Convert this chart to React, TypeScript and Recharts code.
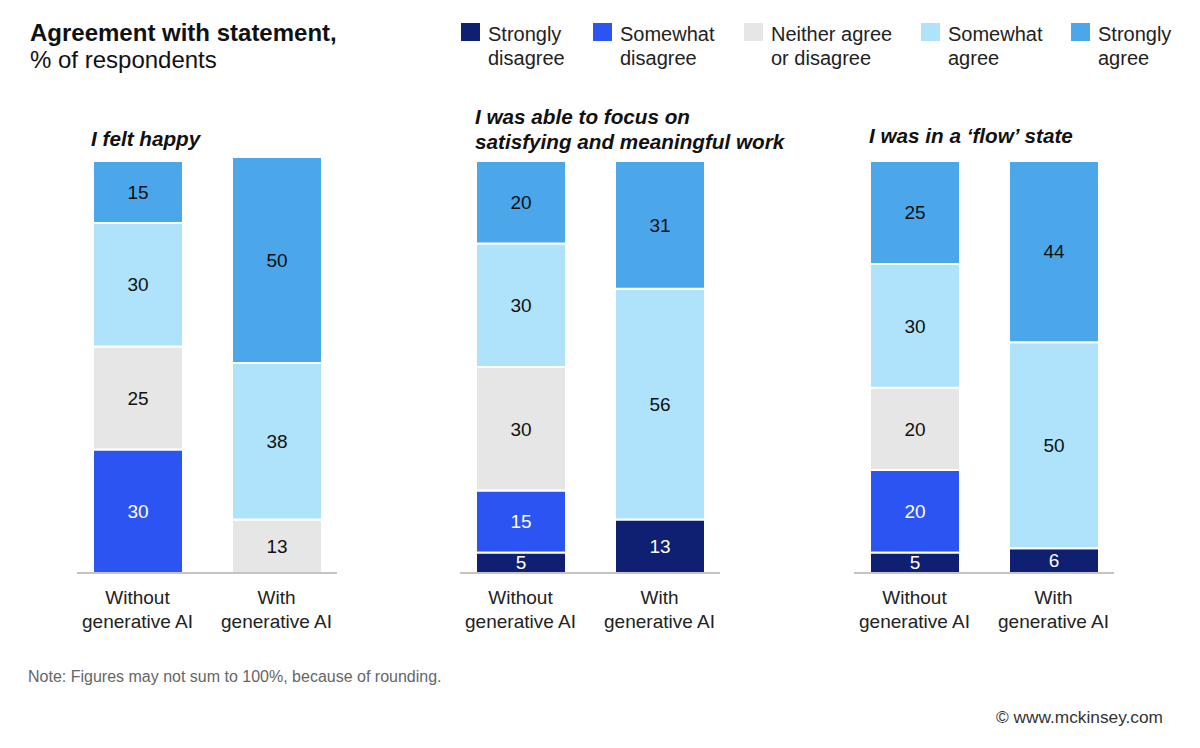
import React from 'react'
import { Bar, BarChart, LabelList, XAxis, YAxis } from 'recharts'

const groups = ['Without|generative AI', 'With|generative AI']
const panelTitles = [['I felt happy'], ['I was able to focus on', 'satisfying and meaningful work'], ['I was in a \u2018flow\u2019 state']]

// values per panel: [without, with]
const stronglyDisagree = [[0, 0], [5, 13], [5, 6]]
const somewhatDisagree = [[30, 0], [15, 0], [20, 0]]
const neither = [[25, 13], [30, 0], [20, 0]]
const somewhatAgree = [[30, 38], [30, 56], [30, 50]]
const stronglyAgree = [[15, 50], [20, 31], [25, 44]]

const series = [
  { key: 'sd', name: 'Strongly|disagree', values: stronglyDisagree, color: '#0f1f72', text: '#fff' },
  { key: 'swd', name: 'Somewhat|disagree', values: somewhatDisagree, color: '#2b54f2', text: '#fff' },
  { key: 'n', name: 'Neither agree|or disagree', values: neither, color: '#e6e6e6', text: '#111' },
  { key: 'swa', name: 'Somewhat|agree', values: somewhatAgree, color: '#aee3fb', text: '#111' },
  { key: 'sa', name: 'Strongly|agree', values: stronglyAgree, color: '#4ba6ea', text: '#111' },
]

const FONT = '"Liberation Sans", Arial, sans-serif'
const panelLeft = [77, 460, 854]
const titleLeft = [91, 475, 869]
const titleTop = [125.5, 104, 123]
const legendText = [488, 620, 771, 948, 1098]

function GroupTick({ x, y, payload }: any) {
  const [a, b] = String(payload.value).split('|')
  return (
    <g>
      <text x={x} y={y + 31} textAnchor="middle" fontSize={19} fill="#222" fontFamily={FONT}>{a}</text>
      <text x={x} y={y + 55} textAnchor="middle" fontSize={19} fill="#222" fontFamily={FONT}>{b}</text>
    </g>
  )
}

function Panel({ index }: { index: number }) {
  const data = groups.map((g, gi) => {
    const row: any = { group: g }
    series.forEach((s) => { row[s.key] = s.values[index][gi] })
    return row
  })
  return (
    <div style={{ position: 'absolute', left: panelLeft[index], top: 150 }}>
      <BarChart width={260} height={483} data={data} margin={{ top: 7, right: 0, bottom: 0, left: 0 }}>
        <XAxis
          dataKey="group"
          tick={<GroupTick />}
          tickLine={false}
          tickSize={0}
          tickMargin={0}
          height={60}
          padding={{ left: -9, right: -9 }}
          axisLine={{ stroke: '#b0b0b0', strokeWidth: 1.5 }}
          interval={0}
        />
        <YAxis hide domain={[0, 101]} />
        {series.map((s) => (
          <Bar key={s.key} dataKey={s.key} stackId="a" fill={s.color} stroke="#fff" strokeWidth={2} barSize={90} isAnimationActive={false}>
            <LabelList
              dataKey={s.key}
              position="center"
              fill={s.text}
              fontSize={19}
              fontFamily={FONT}
              formatter={(v: any) => (v ? v : '')}
            />
          </Bar>
        ))}
      </BarChart>
    </div>
  )
}

export default function App() {
  return (
    <div style={{ position: 'absolute', left: 0, top: 0, width: 1200, height: 748, background: '#fff', fontFamily: FONT, color: '#111', overflow: 'hidden' }}>
      <div style={{ position: 'absolute', left: 30, top: 19, fontSize: 24, lineHeight: '27px' }}>
        <div style={{ fontWeight: 700 }}>Agreement with statement,</div>
        <div>% of respondents</div>
      </div>

      {series.map((s, i) => (
        <div key={s.key} style={{ position: 'absolute', left: legendText[i] - 27, top: 22 }}>
          <div style={{ position: 'absolute', left: 0, top: 1, width: 19, height: 18, background: s.color }} />
          <div style={{ position: 'absolute', left: 27, top: 0, fontSize: 20, lineHeight: '24px', whiteSpace: 'nowrap', color: '#222' }}>
            {s.name.split('|').map((t) => <div key={t}>{t}</div>)}
          </div>
        </div>
      ))}

      {panelTitles.map((lines, i) => (
        <div key={i} style={{ position: 'absolute', left: titleLeft[i], top: titleTop[i], fontSize: 20.7, lineHeight: '25px', fontWeight: 700, fontStyle: 'italic', whiteSpace: 'nowrap' }}>
          {lines.map((t) => <div key={t}>{t}</div>)}
        </div>
      ))}

      {[0, 1, 2].map((i) => <Panel key={i} index={i} />)}

      <div style={{ position: 'absolute', left: 28, top: 668, fontSize: 16, lineHeight: '18px', color: '#666' }}>
        Note: Figures may not sum to 100%, because of rounding.
      </div>
      <div style={{ position: 'absolute', right: 37, top: 708, fontSize: 17.3, lineHeight: '18px', color: '#333' }}>
        © www.mckinsey.com
      </div>
    </div>
  )
}
